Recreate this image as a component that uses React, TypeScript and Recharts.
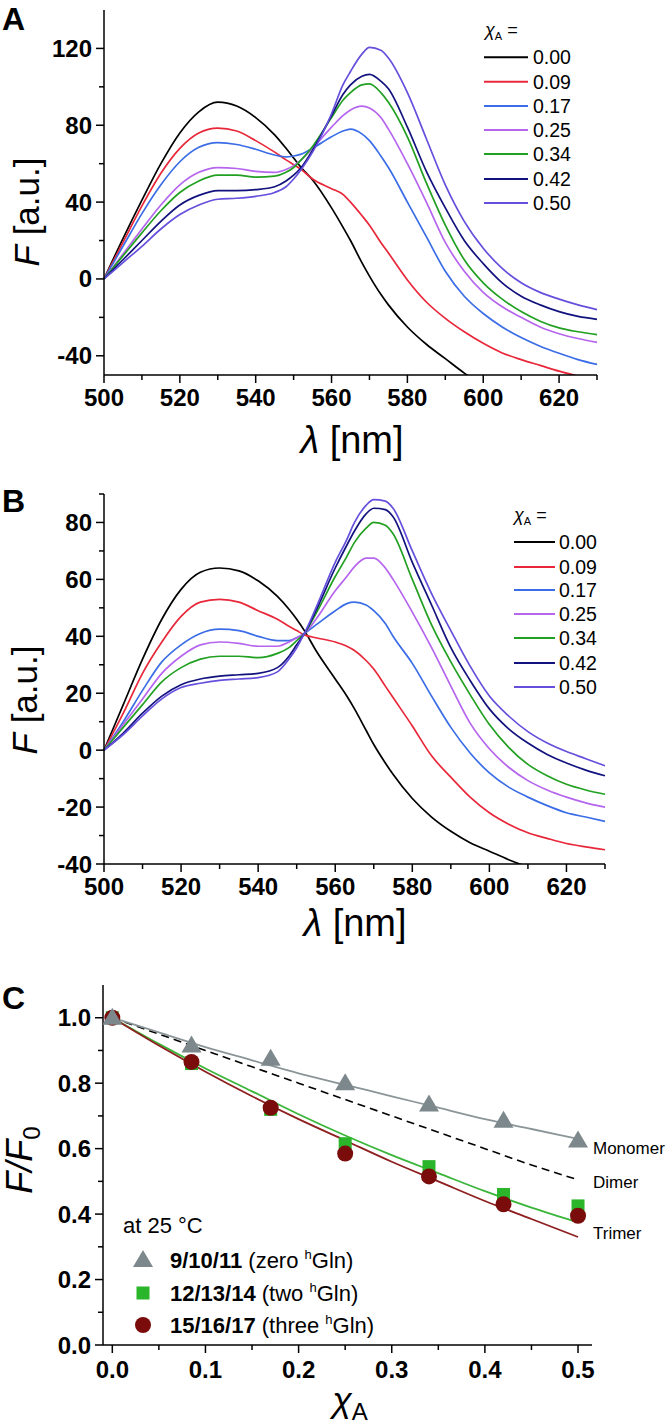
import { LineChart, ComposedChart, Line, Scatter, XAxis, YAxis, Legend } from "recharts"

const FONT = '"Liberation Sans", Arial, Helvetica, sans-serif'

// shared wavelength grid (nm) for panels A and B
const wavelengths = [500, 505, 510, 515, 520, 525, 530, 535, 540, 545, 548, 550, 552, 555, 560, 563, 565, 568, 570, 573, 575, 580, 585, 590, 595, 600, 605, 610, 615, 620, 625, 630]
const fractions = ["0.00", "0.09", "0.17", "0.25", "0.34", "0.42", "0.50"]
const colors = ["#000000", "#e8283a", "#3b6de6", "#b565ee", "#22a022", "#12127e", "#6450dc"]
const nmTicks = [500, 510, 520, 530, 540, 550, 560, 570, 580, 590, 600, 610, 620, 630]

// panel A
const a000 = [0, 21, 41, 60, 76, 87, 92, 90, 84, 75, 68, 63, 58, 51.5, 37, 27, 20, 8.5, 1.5, -8, -13.5, -25, -34, -41.5, -49, -55.5, -61.5, -67, -72, -76, -80, -83]
const a009 = [0, 19, 38, 55, 68, 76, 78.5, 77, 72, 66, 62, 59.5, 57, 52, 47, 44, 40, 33, 28, 19, 13.5, -0.5, -12, -20.5, -27.5, -33.5, -38.5, -42, -45, -48, -50.5, -52]
const a017 = [0, 17, 34, 49, 61, 68.5, 71, 70, 67.5, 64.5, 63.5, 64, 65, 68, 74, 77, 78, 75.5, 72, 64, 58, 40, 22, 4, -9, -18, -25, -30.5, -35, -38.7, -42, -44.5]
const a025 = [0, 13, 26, 38.5, 49, 55.5, 58, 57.5, 56, 55.5, 57, 59, 62, 68, 79, 85, 88, 90, 89, 84, 78, 60, 40, 19, 4, -7, -14.5, -20, -25, -28.5, -31, -33]
const a034 = [0, 12, 24, 35.5, 45, 51, 54, 54, 53, 53.5, 55.5, 58, 62, 69, 84, 93, 97, 101, 101.5, 97, 92, 74, 50, 28, 10, -2, -10.5, -17, -22, -25.5, -27.5, -29]
const a042 = [0, 10, 20, 30, 38.5, 43.5, 46, 46, 46.5, 48, 51, 54, 58, 67, 85, 96, 101, 105.5, 106.5, 103, 99, 79, 56, 37, 20, 8, -2, -9, -13.5, -17, -19.5, -21]
const a050 = [0, 8.5, 17, 26, 33.5, 38.5, 41.5, 42, 43, 45, 48, 52, 57, 66, 86, 101, 108, 117, 120.5, 119, 115, 97, 73, 49, 30, 16, 5.5, -2, -7, -10.5, -13.5, -16]
const aTicks = [-40, -20, 0, 20, 40, 60, 80, 100, 120]

// panel B
const b000 = [0, 16, 32, 46, 56.5, 62.5, 64, 63, 59.5, 54, 49.5, 46, 42, 35, 25, 19, 14.5, 7, 2, -4.5, -8.5, -17, -23.5, -28.5, -32.5, -35.5, -38.5, -41, -43, -45, -46.5, -48]
const b009 = [0, 13, 27, 38, 47, 52, 53, 52, 49, 46, 43.5, 42, 40.5, 39.5, 38, 36.5, 35, 31.5, 28.5, 22.5, 18.5, 8.5, -2, -9.5, -16.5, -22, -26, -29, -31, -32.8, -34, -35]
const b017 = [0, 10, 21, 31, 37, 41, 42.5, 42, 40, 38.5, 38.5, 39.5, 41, 44, 49, 51.5, 52, 51, 49, 44.5, 40, 30.5, 19, 8, -1, -8, -13, -16.5, -19.5, -22, -23.5, -25]
const b025 = [0, 9, 18, 27, 33, 37, 38, 37.5, 36.5, 36.5, 38, 39.5, 41, 46, 56, 61, 64.5, 67.5, 67.5, 64, 60, 48.5, 36, 22.5, 9.5, 0.5, -6, -10.7, -14, -16.5, -18.5, -20]
const b034 = [0, 8, 16, 24, 29, 32, 33, 33, 32.5, 34, 36, 38.5, 41, 48, 61, 68, 73, 78, 80, 79, 76, 60, 44, 31, 19.5, 9, 1, -5, -9, -12, -14, -15.5]
const b042 = [0, 6, 13, 19, 23, 25, 26, 26.5, 27, 29, 33, 37, 41, 49, 64, 72, 77, 83, 85, 84.5, 82, 66, 51, 36, 24.5, 14.5, 7.5, 2.5, -1.5, -4.5, -7, -9]
const b050 = [0, 5.5, 12, 18, 22, 23.5, 24.5, 25, 25.5, 27.5, 32, 36, 41, 50, 66, 74, 80, 86, 88, 87.5, 85, 70, 55, 42, 29.5, 19, 12, 6.5, 2.5, -0.5, -3, -5.5]
const bTicks = [-40, -30, -20, -10, 0, 10, 20, 30, 40, 50, 60, 70, 80, 90]

// panel C
const xaPoints = [0, 0.085, 0.17, 0.25, 0.34, 0.42, 0.5]
const zeroHGln = [1.0, 0.915, 0.875, 0.8, 0.735, 0.685, 0.625]
const twoHGln = [1.0, 0.86, 0.72, 0.615, 0.545, 0.46, 0.425]
const threeHGln = [1.0, 0.865, 0.725, 0.585, 0.515, 0.43, 0.395]
const xaFit = [0, 0.05, 0.1, 0.15, 0.2, 0.25, 0.3, 0.35, 0.4, 0.45, 0.5]
const monomerFit = [1.0, 0.955, 0.91, 0.87, 0.83, 0.795, 0.76, 0.725, 0.69, 0.66, 0.63]
const dimerFit = [1.0, 0.95, 0.9, 0.85, 0.8, 0.75, 0.7, 0.65, 0.6, 0.55, 0.505]
const trimerGreenFit = [1.0, 0.92, 0.845, 0.775, 0.705, 0.64, 0.58, 0.525, 0.47, 0.42, 0.375]
const trimerRedFit = [1.0, 0.915, 0.835, 0.76, 0.69, 0.625, 0.56, 0.5, 0.44, 0.385, 0.33]
const xaTicks = [0, 0.05, 0.1, 0.15, 0.2, 0.25, 0.3, 0.35, 0.4, 0.45, 0.5]
const ratioTicks = [0, 0.1, 0.2, 0.3, 0.4, 0.5, 0.6, 0.7, 0.8, 0.9, 1.0]

const toRows = (xs: number[], ys: number[]) => xs.map((x, i) => ({ x, y: ys[i] }))

function spectraRows(series: number[][]) {
  return wavelengths.map((nm, i) => {
    const row: Record<string, number> = { nm }
    series.forEach((s, j) => {
      row["s" + j] = s[i]
    })
    return row
  })
}

function xTick(isMajor: (v: number) => boolean, fmt: (v: number) => string, labelDy: number) {
  return (p: any) => {
    const v = p.payload.value
    const major = isMajor(v)
    return (
      <g>
        <line x1={p.x} x2={p.x} y1={p.y} y2={p.y + (major ? 8 : 5)} stroke="#000" strokeWidth={1.5} />
        {major && (
          <text x={p.x} y={p.y + labelDy} textAnchor="middle" fontFamily={FONT} fontWeight="bold" fontSize={24} fill="#000">
            {fmt(v)}
          </text>
        )}
      </g>
    )
  }
}

function yTick(isMajor: (v: number) => boolean, fmt: (v: number) => string) {
  return (p: any) => {
    const v = p.payload.value
    const major = isMajor(v)
    return (
      <g>
        <line x1={p.x} x2={p.x - (major ? 8 : 5)} y1={p.y} y2={p.y} stroke="#000" strokeWidth={1.5} />
        {major && (
          <text x={p.x - 12} y={p.y + 8.5} textAnchor="end" fontFamily={FONT} fontWeight="bold" fontSize={24} fill="#000">
            {fmt(v)}
          </text>
        )}
      </g>
    )
  }
}

function fractionLegend(lineX1: number, lineX2: number, textX: number, headerX: number, rowYs: number[]) {
  return (props: any) => {
    const items = props.payload || []
    return (
      <svg width={140} height={200} style={{ overflow: "visible" }}>
        <text x={headerX} y={21} fontFamily={FONT} fontSize={18} fill="#000">
          <tspan fontStyle="italic">χ</tspan>
          <tspan fontSize={11} dy={4}>A</tspan>
          <tspan dy={-4}> =</tspan>
        </text>
        {items.map((it: any, i: number) => (
          <g key={it.value}>
            <line x1={lineX1} x2={lineX2} y1={rowYs[i]} y2={rowYs[i]} stroke={it.color} strokeWidth={2} />
            <text x={textX} y={rowYs[i] + 7} fontFamily={FONT} fontSize={19.5} fill="#000">
              {it.value}
            </text>
          </g>
        ))}
      </svg>
    )
  }
}

interface SpectraProps {
  series: number[][]
  top: number
  height: number
  marginTop: number
  marginRight: number
  xAxisHeight: number
  yDomain: [number, number]
  yTicks: number[]
  yMajor: (v: number) => boolean
  legendLeft: number
  legendTop: number
  legend: (props: any) => any
}

function SpectraPanel(p: SpectraProps) {
  const rows = spectraRows(p.series)
  return (
    <div style={{ position: "absolute", left: 0, top: p.top }}>
      <LineChart width={669} height={p.height} data={rows} margin={{ top: p.marginTop, right: p.marginRight, left: 0, bottom: 0 }}>
        <XAxis
          dataKey="nm"
          type="number"
          domain={[500, 630]}
          ticks={nmTicks}
          interval={0}
          height={p.xAxisHeight}
          tickSize={0}
          tickMargin={0}
          tickLine={false}
          axisLine={{ stroke: "#000", strokeWidth: 1.5 }}
          tick={xTick((v) => v % 20 === 0 && v <= 620, (v) => String(v), 31)}
        />
        <YAxis
          type="number"
          domain={p.yDomain}
          allowDataOverflow
          ticks={p.yTicks}
          interval={0}
          width={104}
          tickSize={0}
          tickMargin={0}
          tickLine={false}
          axisLine={{ stroke: "#000", strokeWidth: 1.5 }}
          tick={yTick(p.yMajor, (v) => String(v))}
        />
        <Legend
          layout="vertical"
          align="center"
          verticalAlign="middle"
          content={p.legend}
          wrapperStyle={{ left: p.legendLeft, top: p.legendTop, width: 140, height: 200 }}
        />
        {p.series.map((_, j) => (
          <Line
            key={j}
            dataKey={"s" + j}
            name={fractions[j]}
            type="monotone"
            stroke={colors[j]}
            strokeWidth={1.7}
            dot={false}
            activeDot={false}
            isAnimationActive={false}
          />
        ))}
      </LineChart>
    </div>
  )
}

const TriangleShape = (p: any) => (
  <polygon points={`${p.cx},${p.cy - 10} ${p.cx - 10},${p.cy + 7} ${p.cx + 10},${p.cy + 7}`} fill="#7d888c" />
)
const SquareShape = (p: any) => <rect x={p.cx - 6.5} y={p.cy - 6.5} width={13} height={13} fill="#2bb52b" />
const CircleShape = (p: any) => <circle cx={p.cx} cy={p.cy} r={8} fill="#7a0c0c" />

const cLegend = () => (
  <svg width={320} height={130} style={{ overflow: "visible" }}>
    <text x={13} y={23} fontFamily={FONT} fontSize={22} fill="#000">
      at 25 °C
    </text>
    <polygon points="33,40 23,57 43,57" fill="#7d888c" />
    <rect x={26.5} y={76.5} width={13} height={13} fill="#2bb52b" />
    <circle cx={33} cy={115} r={8} fill="#7a0c0c" />
    <text x={60} y={58} fontFamily={FONT} fontSize={22} fill="#000">
      <tspan fontWeight="bold">9/10/11</tspan> (zero <tspan fontSize={13} dy={-9}>h</tspan>
      <tspan dy={9}>Gln)</tspan>
    </text>
    <text x={60} y={91} fontFamily={FONT} fontSize={22} fill="#000">
      <tspan fontWeight="bold">12/13/14</tspan> (two <tspan fontSize={13} dy={-9}>h</tspan>
      <tspan dy={9}>Gln)</tspan>
    </text>
    <text x={60} y={123} fontFamily={FONT} fontSize={22} fill="#000">
      <tspan fontWeight="bold">15/16/17</tspan> (three <tspan fontSize={13} dy={-9}>h</tspan>
      <tspan dy={9}>Gln)</tspan>
    </text>
  </svg>
)

function RatioPanel() {
  return (
    <div style={{ position: "absolute", left: 0, top: 940 }}>
      <ComposedChart width={669} height={486} margin={{ top: 45, right: 77, left: 0, bottom: 0 }}>
        <XAxis
          dataKey="x"
          type="number"
          domain={[-0.01, 0.515]}
          allowDataOverflow
          ticks={xaTicks}
          interval={0}
          height={81}
          tickSize={0}
          tickMargin={0}
          tickLine={false}
          axisLine={{ stroke: "#000", strokeWidth: 1.5 }}
          tick={xTick((v) => Math.round(v * 100) % 10 === 0, (v) => v.toFixed(1), 33)}
        />
        <YAxis
          dataKey="y"
          type="number"
          domain={[0, 1.1]}
          allowDataOverflow
          ticks={ratioTicks}
          interval={0}
          width={103}
          tickSize={0}
          tickMargin={0}
          tickLine={false}
          axisLine={{ stroke: "#000", strokeWidth: 1.5 }}
          tick={yTick((v) => Math.round(v * 10) % 2 === 0, (v) => v.toFixed(1))}
        />
        <Legend
          layout="vertical"
          align="center"
          verticalAlign="middle"
          content={cLegend}
          wrapperStyle={{ left: 110, top: 270, width: 320, height: 130 }}
        />
        <Line data={toRows(xaFit, dimerFit)} dataKey="y" type="monotone" stroke="#000" strokeWidth={1.6} strokeDasharray="8 5" dot={false} activeDot={false} legendType="none" isAnimationActive={false} />
        <Line data={toRows(xaFit, monomerFit)} dataKey="y" type="monotone" stroke="#8b9598" strokeWidth={1.8} dot={false} activeDot={false} legendType="none" isAnimationActive={false} />
        <Line data={toRows(xaFit, trimerGreenFit)} dataKey="y" type="monotone" stroke="#3ab53a" strokeWidth={1.8} dot={false} activeDot={false} legendType="none" isAnimationActive={false} />
        <Line data={toRows(xaFit, trimerRedFit)} dataKey="y" type="monotone" stroke="#8e1f1f" strokeWidth={1.8} dot={false} activeDot={false} legendType="none" isAnimationActive={false} />
        <Scatter name="12/13/14" data={toRows(xaPoints, twoHGln)} shape={SquareShape} isAnimationActive={false} />
        <Scatter name="15/16/17" data={toRows(xaPoints, threeHGln)} shape={CircleShape} isAnimationActive={false} />
        <Scatter name="9/10/11" data={toRows(xaPoints, zeroHGln)} shape={TriangleShape} isAnimationActive={false} />
      </ComposedChart>
    </div>
  )
}

export default function App() {
  return (
    <div style={{ position: "relative", width: 669, height: 1426, background: "#fff", fontFamily: FONT }}>
      <style>{"body{margin:0}"}</style>
      <SpectraPanel
        series={[a000, a009, a017, a025, a034, a042, a050]}
        top={0}
        height={470}
        marginTop={10}
        marginRight={72}
        xAxisHeight={95}
        yDomain={[-50, 140]}
        yTicks={aTicks}
        yMajor={(v) => v % 40 === 0}
        legendLeft={478}
        legendTop={15}
        legend={fractionLegend(6, 50, 55, 7, [42.3, 66.7, 91, 115, 139, 164, 188])}
      />
      <SpectraPanel
        series={[b000, b009, b017, b025, b034, b042, b050]}
        top={470}
        height={470}
        marginTop={24}
        marginRight={64}
        xAxisHeight={76}
        yDomain={[-40, 90]}
        yTicks={bTicks}
        yMajor={(v) => v % 20 === 0}
        legendLeft={508}
        legendTop={30}
        legend={fractionLegend(6, 47, 51, 6, [42, 67, 90, 114, 138, 163, 187])}
      />
      <RatioPanel />
      <svg width={669} height={1426} style={{ position: "absolute", left: 0, top: 0, pointerEvents: "none" }}>
        <g fontFamily={FONT} fill="#000">
          <text x={2} y={30} fontSize={32} fontWeight="bold">A</text>
          <text x={2} y={512} fontSize={32} fontWeight="bold">B</text>
          <text x={2} y={1009} fontSize={32} fontWeight="bold">C</text>

          <text transform="translate(39,212) rotate(-90)" textAnchor="middle" fontSize={35}>
            <tspan fontStyle="italic">F</tspan> [a.u.]
          </text>
          <text x={352} y={453} textAnchor="middle" fontSize={38}>
            <tspan fontStyle="italic">λ</tspan> [nm]
          </text>

          <text transform="translate(37,700) rotate(-90)" textAnchor="middle" fontSize={35}>
            <tspan fontStyle="italic">F</tspan> [a.u.]
          </text>
          <text x={355} y={936} textAnchor="middle" fontSize={38}>
            <tspan fontStyle="italic">λ</tspan> [nm]
          </text>

          <text transform="translate(32,1160) rotate(-90)" textAnchor="middle" fontSize={36}>
            <tspan fontStyle="italic">F/F</tspan>
            <tspan fontSize={24} dy={8}>0</tspan>
          </text>
          <text x={350} y={1412} textAnchor="middle" fontSize={36}>
            <tspan fontStyle="italic">χ</tspan>
            <tspan fontSize={24} dy={8}>A</tspan>
          </text>

          <text x={593} y={1154} fontSize={17}>Monomer</text>
          <text x={593} y={1188} fontSize={17}>Dimer</text>
          <text x={593} y={1239} fontSize={17}>Trimer</text>
        </g>
      </svg>
    </div>
  )
}
